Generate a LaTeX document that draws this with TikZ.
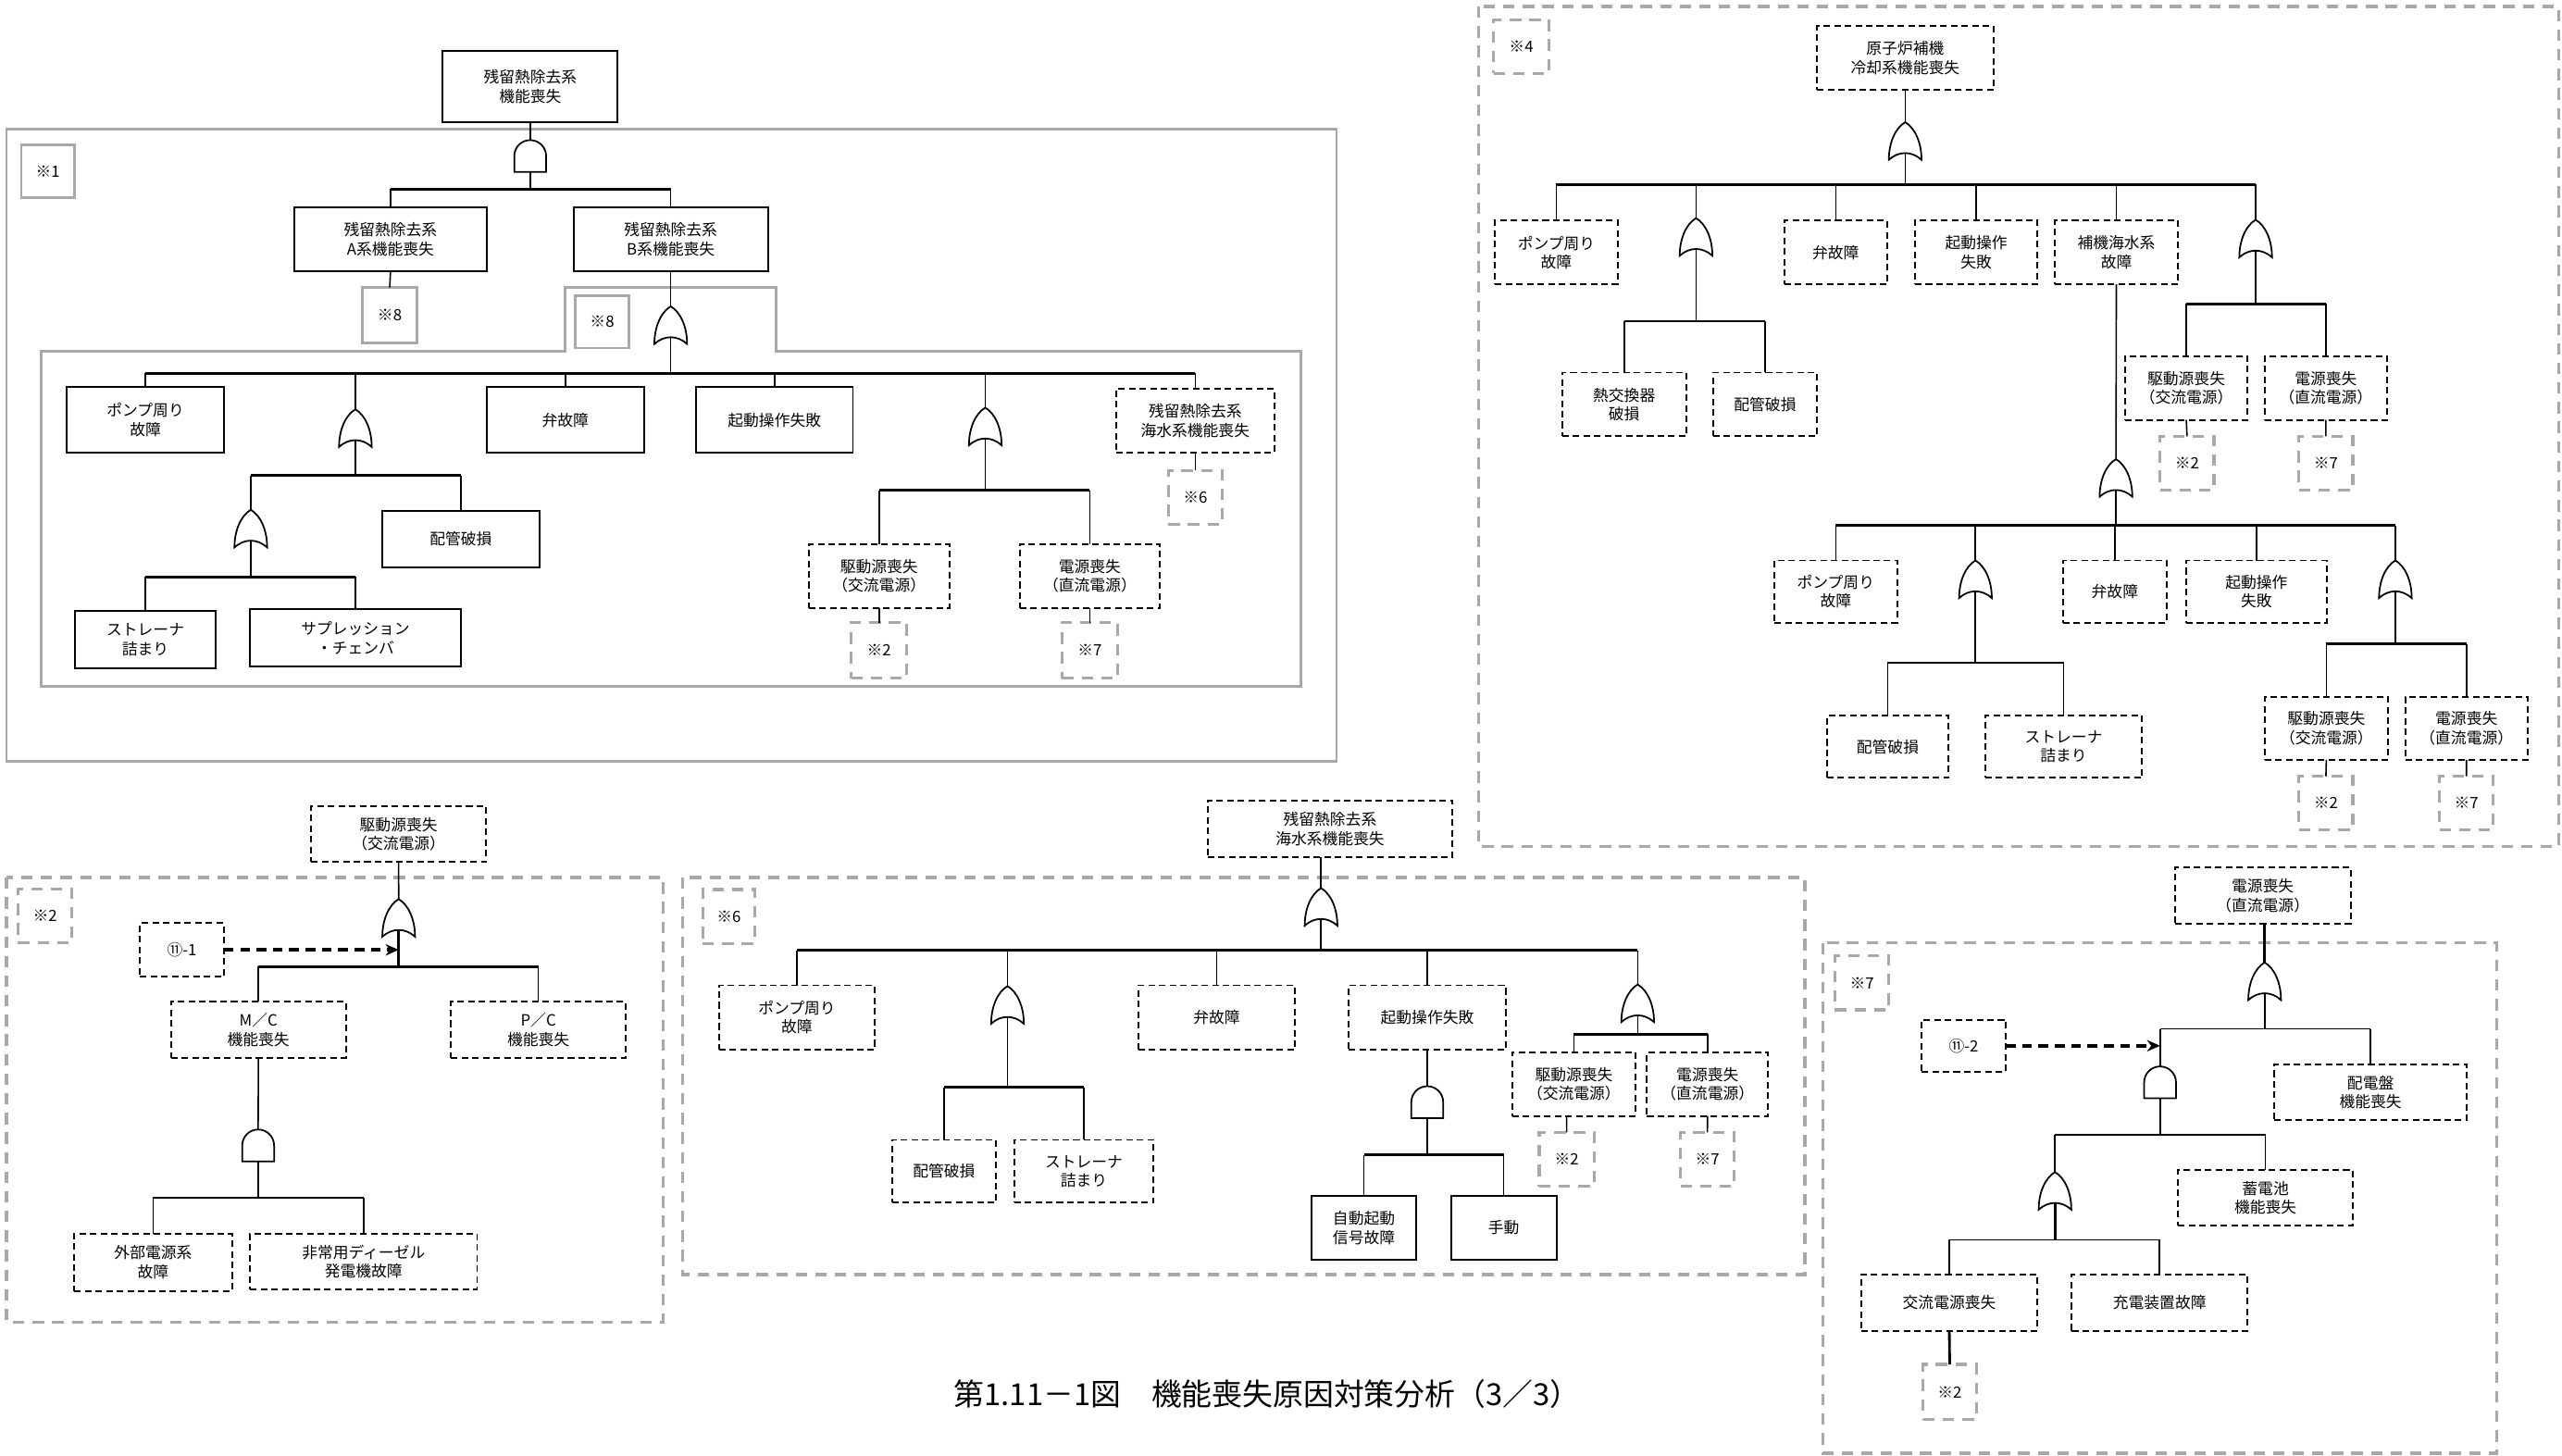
\documentclass[tikz,border=0pt]{standalone}
\usepackage{fontspec}
\setmainfont{Noto Sans CJK JP}
\usetikzlibrary{arrows.meta,calc}
\definecolor{frm}{HTML}{A8A8A8}
\newcommand\mkbox[7]{\node[#2, minimum width={(#5)-(#3)}, minimum height={(#6)-(#4)}] (#1) at ({((#3)+(#5))/2},{((#4)+(#6))/2}) {#7};}
\tikzset{
 txtbase/.style={inner sep=0pt, outer sep=0pt, align=center, font=\fontsize{9.5}{11.5}\selectfont},
 sbox/.style={txtbase, draw, line width=1.1pt},
 dbox/.style={txtbase, draw, line width=1.1pt, dash pattern=on 4pt off 2.5pt},
 gsbox/.style={txtbase, draw=frm, line width=1.6pt},
 gdbox/.style={txtbase, draw=frm, line width=1.8pt, dash pattern=on 7pt off 5pt},
 conn/.style={line width=0.9pt},
 barl/.style={line width=1.6pt},
 gateline/.style={line width=1pt, fill=white},
 frameS/.style={draw=frm, line width=1.6pt},
 frameD/.style={draw=frm, line width=1.8pt, dash pattern=on 7pt off 5pt},
 darrow/.style={line width=2pt, dash pattern=on 6pt off 4pt, -{Stealth[length=8pt,width=7pt]}},
 orgate/.pic={
   \draw[gateline] (-10,11.5) .. controls (-10,1) and (-6,-8) .. (0,-11.5) .. controls (6,-8) and (10,1) .. (10,11.5) .. controls (4,6) and (-4,6) .. cycle;
   \coordinate (-top) at (0,-11.5);
   \coordinate (-bot) at (0,7.4);
 },
 andgate/.pic={
   \draw[gateline] (-9.75,9.75) -- (-9.75,0) arc[start angle=180,end angle=360,radius=9.75] -- (9.75,9.75) -- cycle;
   \coordinate (-top) at (0,-9.75);
   \coordinate (-bot) at (0,9.75);
 },
}
\begin{document}
\begin{tikzpicture}[x=1pt,y=-1pt]
\useasboundingbox (0,0) rectangle (1568,891);
%================ top-left panel
\draw[frameS] (4,79) rectangle (818,466);
\draw[frameS] (25,215) -- (346,215) -- (346,176) -- (475,176) -- (475,215) -- (796,215) -- (796,420) -- (25,420) -- cycle;
\mkbox{T0}{sbox}{271}{31}{378}{75}{残留熱除去系\\機能喪失}
\mkbox{L1}{gsbox}{13}{88.5}{45.6}{121}{※1}
\pic (G1) at (324.5,95.5) {andgate};
\mkbox{A}{sbox}{180}{127}{298}{166}{残留熱除去系\\A系機能喪失}
\mkbox{B}{sbox}{351}{127}{470}{166}{残留熱除去系\\B系機能喪失}
\mkbox{L8a}{gsbox}{222}{176}{255}{210}{※8}
\mkbox{L8b}{gsbox}{352}{181}{385}{213}{※8}
\pic (G2) at (410.5,199) {orgate};
\mkbox{c1}{sbox}{41}{237}{137}{277}{ポンプ周り\\故障}
\pic (G3) at (217.5,262) {orgate};
\mkbox{c3}{sbox}{298}{237}{394}{277}{弁故障}
\mkbox{c4}{sbox}{426}{237}{522}{277}{起動操作失敗}
\pic (G5) at (603,261) {orgate};
\mkbox{c6}{dbox}{683}{238}{780}{277}{残留熱除去系\\海水系機能喪失}
\mkbox{L6a}{gdbox}{715}{288}{748}{321}{※6}
\pic (G4) at (153.5,323.5) {orgate};
\mkbox{c7}{sbox}{234}{312.5}{330}{347}{配管破損}
\mkbox{c8}{sbox}{46}{374}{132}{409}{ストレーナ\\詰まり}
\mkbox{c9}{sbox}{153}{373}{282}{408}{サプレッション\\・チェンバ}
\mkbox{c10}{dbox}{495}{333}{581}{372}{駆動源喪失\\（交流電源）}
\mkbox{c11}{dbox}{624}{333}{710}{372}{電源喪失\\（直流電源）}
\mkbox{L2a}{gdbox}{521}{381}{555}{415}{※2}
\mkbox{L7a}{gdbox}{650}{381}{684}{415}{※7}
\draw[conn] (T0.south) -- (G1-top);
\coordinate (k1) at (324.5,115.7);
\draw[conn] (G1-bot) -- (k1);
\draw[barl] (A.north |- k1) -- (B.north |- k1);
\draw[conn] (A.north |- k1) -- (A.north) (B.north |- k1) -- (B.north);
\draw[conn] (A.south) -- (L8a.north);
\draw[conn] (B.south) -- (G2-top);
\coordinate (k2) at (410.5,228.5);
\draw[conn] (G2-bot) -- (k2);
\draw[barl] (c1.north |- k2) -- (c6.north |- k2);
\draw[conn] (c1.north |- k2) -- (c1.north) (G3-top |- k2) -- (G3-top) (c3.north |- k2) -- (c3.north)
  (c4.north |- k2) -- (c4.north) (G5-top |- k2) -- (G5-top) (c6.north |- k2) -- (c6.north);
\draw[conn] (c6.south) -- (L6a.north);
\coordinate (k3) at (217.5,291);
\draw[conn] (G3-bot) -- (k3);
\draw[barl] (G4-top |- k3) -- (c7.north |- k3);
\draw[conn] (G4-top |- k3) -- (G4-top) (c7.north |- k3) -- (c7.north);
\coordinate (k4) at (153.5,353);
\draw[conn] (G4-bot) -- (k4);
\draw[barl] (c8.north |- k4) -- (c9.north |- k4);
\draw[conn] (c8.north |- k4) -- (c8.north) (c9.north |- k4) -- (c9.north);
\coordinate (k5) at (603,300);
\draw[conn] (G5-bot) -- (k5);
\draw[barl] (c10.north |- k5) -- (c11.north |- k5);
\draw[conn] (c10.north |- k5) -- (c10.north) (c11.north |- k5) -- (c11.north);
\draw[conn] (c10.south) -- (L2a.north) (c11.south) -- (L7a.north);
%================ top-right panel
\draw[frameD] (905,4) rectangle (1566,518);
\mkbox{L4}{gdbox}{914}{12}{948}{45}{※4}
\mkbox{T4}{dbox}{1112}{16}{1220}{55}{原子炉補機\\冷却系機能喪失}
\pic (G6) at (1166,86.3) {orgate};
\mkbox{d1}{dbox}{915}{135}{990}{174}{ポンプ周り\\故障}
\pic (G7) at (1038,145) {orgate};
\mkbox{d3}{dbox}{1092}{135}{1155}{174}{弁故障}
\mkbox{d4}{dbox}{1172}{135}{1247}{174}{起動操作\\失敗}
\mkbox{d5}{dbox}{1257.5}{135}{1333}{174}{補機海水系\\故障}
\pic (G8) at (1380.5,146) {orgate};
\mkbox{d6}{dbox}{956}{228}{1032}{267}{熱交換器\\破損}
\mkbox{d7}{dbox}{1048.5}{228}{1112}{267}{配管破損}
\mkbox{d8}{dbox}{1300.6}{218}{1375.5}{257}{駆動源喪失\\（交流電源）}
\mkbox{d9}{dbox}{1386}{218}{1461}{257}{電源喪失\\（直流電源）}
\mkbox{L2b}{gdbox}{1322}{267}{1355}{300}{※2}
\mkbox{L7b}{gdbox}{1407}{267}{1440}{300}{※7}
\pic (G9) at (1295,292.5) {orgate};
\mkbox{e1}{dbox}{1086}{343}{1161}{381}{ポンプ周り\\故障}
\pic (G10) at (1209,354.5) {orgate};
\mkbox{e3}{dbox}{1262.6}{343}{1326}{381}{弁故障}
\mkbox{e4}{dbox}{1338}{343}{1424}{381}{起動操作\\失敗}
\pic (G11) at (1466,354.5) {orgate};
\mkbox{e5}{dbox}{1118}{438}{1192.6}{476}{配管破損}
\mkbox{e6}{dbox}{1215}{438}{1311}{476}{ストレーナ\\詰まり}
\mkbox{e7}{dbox}{1386}{426.5}{1461.5}{465}{駆動源喪失\\（交流電源）}
\mkbox{e8}{dbox}{1472}{426.5}{1547}{465}{電源喪失\\（直流電源）}
\mkbox{L2c}{gdbox}{1407}{475}{1440}{508}{※2}
\mkbox{L7c}{gdbox}{1493}{475}{1526}{508}{※7}
\draw[conn] (T4.south) -- (G6-top);
\coordinate (k6) at (1166,113);
\draw[conn] (G6-bot) -- (k6);
\draw[barl] (d1.north |- k6) -- (G8-top |- k6);
\draw[conn] (d1.north |- k6) -- (d1.north) (G7-top |- k6) -- (G7-top) (d3.north |- k6) -- (d3.north)
  (d4.north |- k6) -- (d4.north) (d5.north |- k6) -- (d5.north) (G8-top |- k6) -- (G8-top);
\coordinate (k7) at (1038,196.6);
\draw[conn] (G7-bot) -- (k7);
\draw[barl] (d6.north |- k7) -- (d7.north |- k7);
\draw[conn] (d6.north |- k7) -- (d6.north) (d7.north |- k7) -- (d7.north);
\coordinate (k8) at (1380.5,186);
\draw[conn] (G8-bot) -- (k8);
\draw[barl] (d8.north |- k8) -- (d9.north |- k8);
\draw[conn] (d8.north |- k8) -- (d8.north) (d9.north |- k8) -- (d9.north);
\draw[conn] (d8.south) -- (L2b.north) (d9.south) -- (L7b.north);
\draw[conn] (d5.south) -- (G9-top);
\coordinate (k9) at (1295,321.6);
\draw[conn] (G9-bot) -- (k9);
\draw[barl] (e1.north |- k9) -- (G11-top |- k9);
\draw[conn] (e1.north |- k9) -- (e1.north) (G10-top |- k9) -- (G10-top) (e3.north |- k9) -- (e3.north)
  (e4.north |- k9) -- (e4.north) (G11-top |- k9) -- (G11-top);
\coordinate (k10) at (1209,405.6);
\draw[conn] (G10-bot) -- (k10);
\draw[barl] (e5.north |- k10) -- (e6.north |- k10);
\draw[conn] (e5.north |- k10) -- (e5.north) (e6.north |- k10) -- (e6.north);
\coordinate (k11) at (1466,394);
\draw[conn] (G11-bot) -- (k11);
\draw[barl] (e7.north |- k11) -- (e8.north |- k11);
\draw[conn] (e7.north |- k11) -- (e7.north) (e8.north |- k11) -- (e8.north);
\draw[conn] (e7.south) -- (L2c.north) (e8.south) -- (L7c.north);
%================ bottom-left panel (※2)
\draw[frameD] (4,537) rectangle (406,809);
\mkbox{T2}{dbox}{190.4}{493.5}{297.5}{527.6}{駆動源喪失\\（交流電源）}
\mkbox{L2}{gdbox}{11}{544}{44}{577}{※2}
\mkbox{I1}{dbox}{85.7}{565}{137}{597.6}{⑪-1}
\begin{scope}[shift={(244,561.75)},scale=1.12]
\pic (G12) at (0,0) {orgate};
\end{scope}
\mkbox{M1}{dbox}{104.6}{613}{211.7}{647.5}{M／C\\機能喪失}
\mkbox{P1}{dbox}{276}{613}{383}{647.5}{P／C\\機能喪失}
\begin{scope}[shift={(158,701)},scale=1.12]
\pic (G13) at (0,0) {andgate};
\end{scope}
\mkbox{X1}{dbox}{45.4}{755}{142}{790}{外部電源系\\故障}
\mkbox{X2}{dbox}{153}{755}{292}{789}{非常用ディーゼル\\発電機故障}
\draw[conn] (T2.south) -- (G12-top);
\coordinate (k12) at (244,591.5);
\draw[barl] (G12-bot) -- (k12);
\draw[barl] (M1.north |- k12) -- (P1.north |- k12);
\draw[conn] (M1.north |- k12) -- (M1.north) (P1.north |- k12) -- (P1.north);
\coordinate (ar1) at (244,581.3);
\draw[darrow] (I1.east) -- (ar1);
\draw[conn] (M1.south) -- (G13-top);
\coordinate (k13) at (158,733);
\draw[conn] (G13-bot) -- (k13);
\draw[barl] (X1.north |- k13) -- (X2.north |- k13);
\draw[conn] (X1.north |- k13) -- (X1.north) (X2.north |- k13) -- (X2.north);
%================ bottom-middle panel (※6)
\draw[frameD] (418,537) rectangle (1104.6,780);
\mkbox{T6}{dbox}{739}{490}{889}{524.5}{残留熱除去系\\海水系機能喪失}
\mkbox{L6}{gdbox}{430}{544.4}{462}{577.5}{※6}
\pic (G14) at (808.5,555) {orgate};
\mkbox{f1}{dbox}{440}{603}{535.4}{642.5}{ポンプ周り\\故障}
\pic (G15) at (616.6,615) {orgate};
\mkbox{f3}{dbox}{696.7}{603}{792.5}{642.5}{弁故障}
\mkbox{f4}{dbox}{825.4}{603}{921.6}{642.5}{起動操作失敗}
\pic (G16) at (1002.3,614) {orgate};
\mkbox{f5}{dbox}{546}{697.6}{609.5}{736}{配管破損}
\mkbox{f6}{dbox}{620.6}{697.6}{706}{736}{ストレーナ\\詰まり}
\begin{scope}[shift={(873.5,674.5)},scale=1.12]
\pic (G17) at (0,0) {andgate};
\end{scope}
\mkbox{f7}{sbox}{802.7}{732}{866.7}{771}{自動起動\\信号故障}
\mkbox{f8}{sbox}{888}{732}{952.6}{771}{手動}
\mkbox{f9}{dbox}{925.5}{644}{1001}{683}{駆動源喪失\\（交流電源）}
\mkbox{f10}{dbox}{1008}{644}{1082}{683}{電源喪失\\（直流電源）}
\mkbox{L2d}{gdbox}{942}{693}{975.6}{726}{※2}
\mkbox{L7d}{gdbox}{1028.5}{693}{1061.4}{726}{※7}
\draw[conn] (G14-top) -- (G14-top |- T6.south);
\coordinate (k14) at (808.5,581.5);
\draw[conn] (G14-bot) -- (k14);
\draw[barl] (f1.north |- k14) -- (G16-top |- k14);
\draw[conn] (f1.north |- k14) -- (f1.north) (G15-top |- k14) -- (G15-top) (f3.north |- k14) -- (f3.north)
  (f4.north |- k14) -- (f4.north) (G16-top |- k14) -- (G16-top);
\coordinate (k15) at (616.6,665.4);
\draw[conn] (G15-bot) -- (k15);
\draw[barl] (f5.north |- k15) -- (f6.north |- k15);
\draw[conn] (f5.north |- k15) -- (f5.north) (f6.north |- k15) -- (f6.north);
\draw[conn] (f4.south) -- (G17-top);
\coordinate (k17) at (873.5,706.8);
\draw[conn] (G17-bot) -- (k17);
\draw[barl] (f7.north |- k17) -- (f8.north |- k17);
\draw[conn] (f7.north |- k17) -- (f7.north) (f8.north |- k17) -- (f8.north);
\coordinate (k16) at (1002.3,633);
\draw[conn] (G16-bot) -- (k16);
\draw[barl] (f9.north |- k16) -- (f10.north |- k16);
\draw[conn] (f9.north |- k16) -- (f9.north) (f10.north |- k16) -- (f10.north);
\draw[conn] (L2d.north) -- (L2d.north |- f9.south) (f10.south) -- (L7d.north);
%================ bottom-right panel (※7)
\draw[frameD] (1115.5,577) rectangle (1528,889.4);
\mkbox{T7}{dbox}{1331}{531}{1438.7}{565.3}{電源喪失\\（直流電源）}
\mkbox{L7}{gdbox}{1123}{585}{1156}{618}{※7}
\begin{scope}[shift={(1386,600.5)},scale=1.08]
\pic (G18) at (0,0) {orgate};
\end{scope}
\mkbox{I2}{dbox}{1176}{624}{1227.6}{656}{⑪-2}
\begin{scope}[shift={(1322,662.4)},scale=1.12]
\pic (G19) at (0,0) {andgate};
\end{scope}
\mkbox{h1}{dbox}{1392}{651.4}{1509.6}{685.5}{配電盤\\機能喪失}
\begin{scope}[shift={(1257.7,728.8)},scale=1.1]
\pic (G20) at (0,0) {orgate};
\end{scope}
\mkbox{h2}{dbox}{1333}{716}{1440}{750}{蓄電池\\機能喪失}
\mkbox{h3}{dbox}{1139}{780}{1247}{814.4}{交流電源喪失}
\mkbox{h4}{dbox}{1268}{780}{1375.4}{814.4}{充電装置故障}
\mkbox{L2e}{gdbox}{1177}{835}{1209.5}{868.7}{※2}
\draw[barl] (G18-top) -- (G18-top |- T7.south);
\coordinate (k18) at (1386,629.7);
\draw[conn] (G18-bot) -- (k18);
\draw[conn] (G19-top |- k18) -- (h1.north |- k18);
\draw[conn] (G19-top |- k18) -- (G19-top) (h1.north |- k18) -- (h1.north);
\coordinate (ar2) at (1322,640);
\draw[darrow] (I2.east) -- (ar2);
\coordinate (k19) at (1322,694.5);
\draw[conn] (G19-bot) -- (k19);
\draw[conn] (G20-top |- k19) -- (h2.north |- k19);
\draw[conn] (G20-top |- k19) -- (G20-top) (h2.north |- k19) -- (h2.north);
\coordinate (k20) at (1257.7,758.7);
\draw[barl] (G20-bot) -- (k20);
\draw[conn] (h3.north |- k20) -- (h4.north |- k20);
\draw[conn] (h3.north |- k20) -- (h3.north) (h4.north |- k20) -- (h4.north);
\draw[barl] (h3.south) -- (L2e.north);
%================ caption
\node[inner sep=0pt, font=\fontsize{18.6}{20}\selectfont] (cap) at (775.5,853) {第1.11－1図　機能喪失原因対策分析（3／3）};
\end{tikzpicture}
\end{document}
